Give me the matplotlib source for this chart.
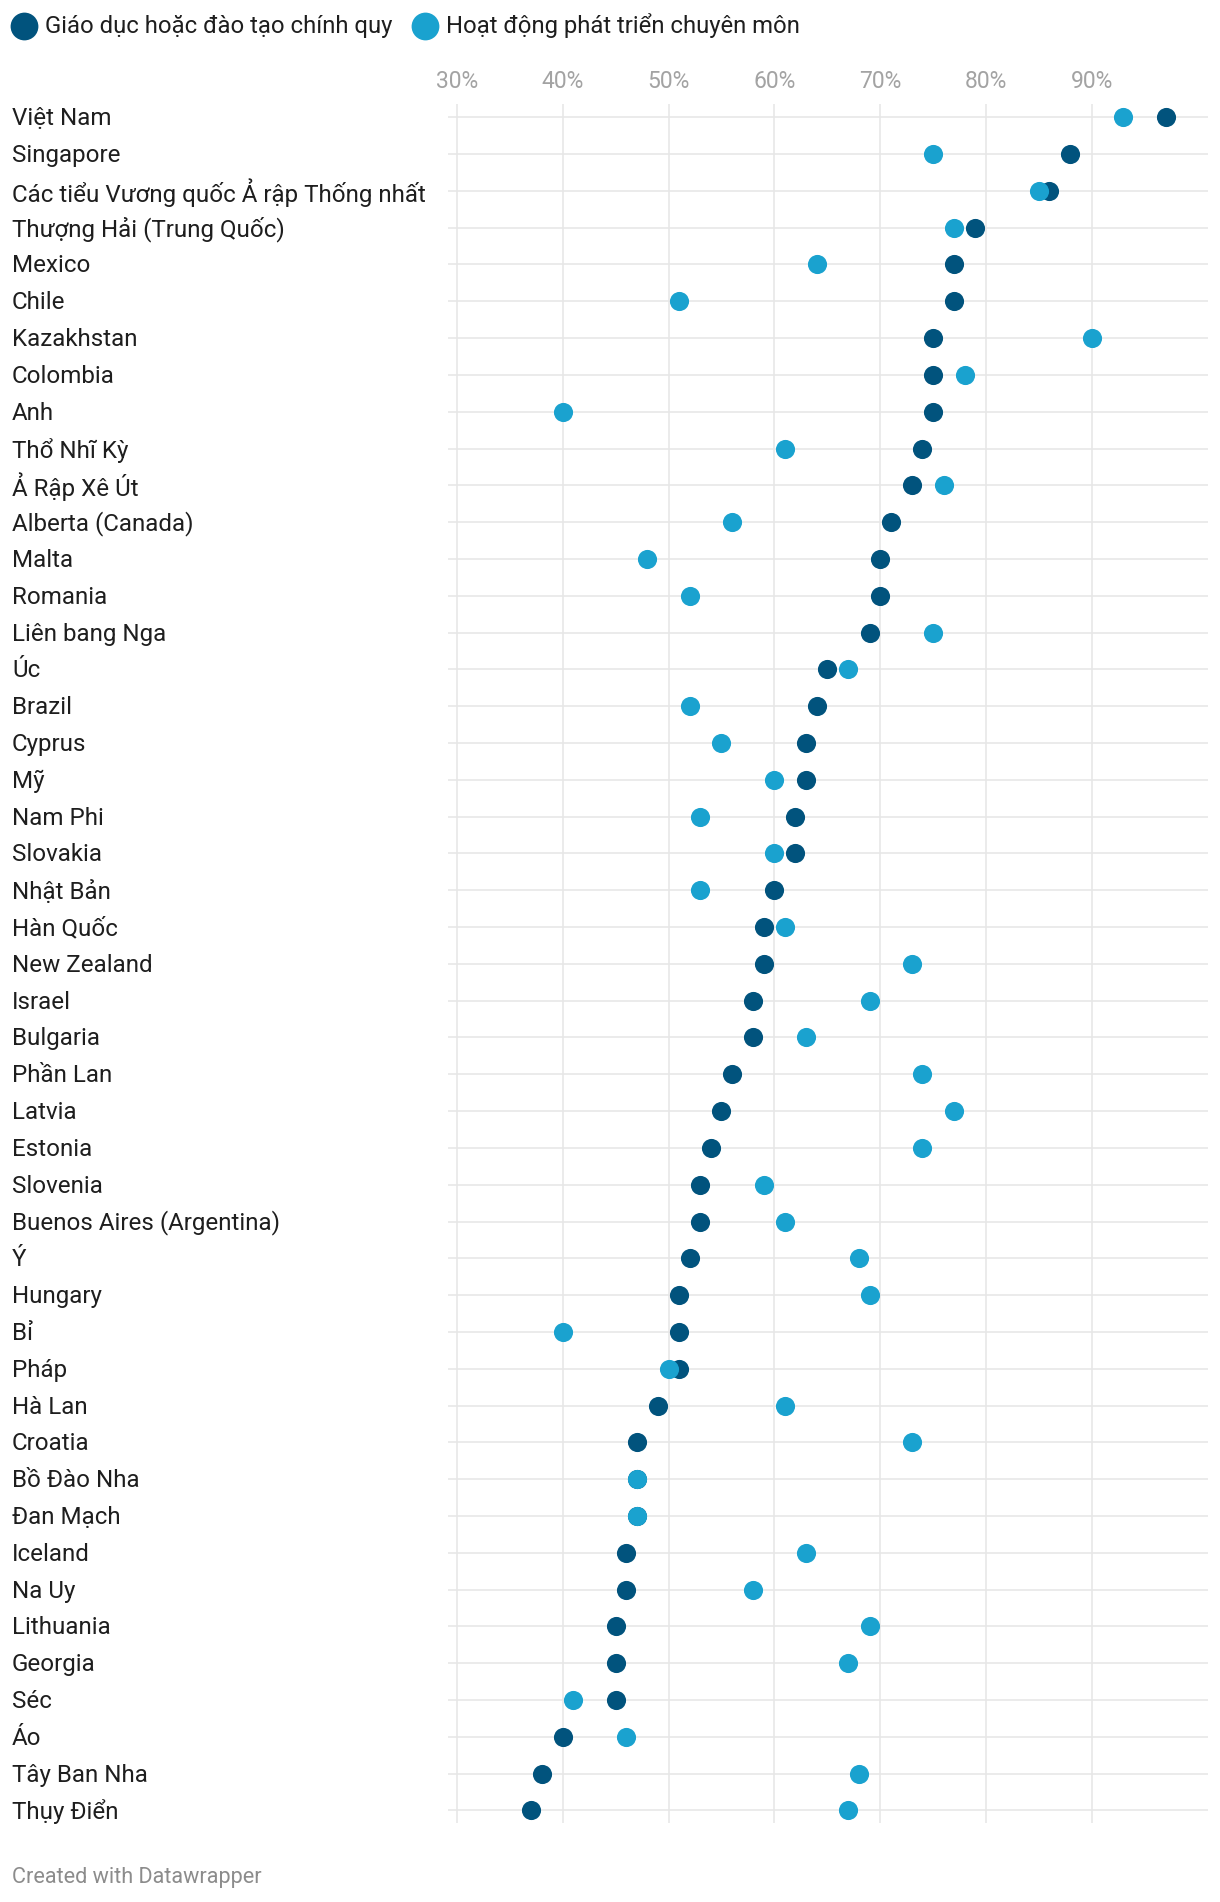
import matplotlib
matplotlib.use("Agg")
import matplotlib.pyplot as plt
from matplotlib.transforms import blended_transform_factory
from matplotlib.lines import Line2D

plt.rcParams['font.family'] = ['Roboto', 'DejaVu Sans']

countries = [
    "Việt Nam", "Singapore", "Các tiểu Vương quốc Ả rập Thống nhất", "Thượng Hải (Trung Quốc)",
    "Mexico", "Chile", "Kazakhstan", "Colombia", "Anh", "Thổ Nhĩ Kỳ", "Ả Rập Xê Út",
    "Alberta (Canada)", "Malta", "Romania", "Liên bang Nga", "Úc", "Brazil", "Cyprus", "Mỹ",
    "Nam Phi", "Slovakia", "Nhật Bản", "Hàn Quốc", "New Zealand", "Israel", "Bulgaria",
    "Phần Lan", "Latvia", "Estonia", "Slovenia", "Buenos Aires (Argentina)", "Ý", "Hungary",
    "Bỉ", "Pháp", "Hà Lan", "Croatia", "Bồ Đào Nha", "Đan Mạch", "Iceland", "Na Uy",
    "Lithuania", "Georgia", "Séc", "Áo", "Tây Ban Nha", "Thụy Điển",
]
formal = [97, 88, 86, 79, 77, 77, 75, 75, 75, 74, 73, 71, 70, 70, 69, 65, 64, 63, 63,
          62, 62, 60, 59, 59, 58, 58, 56, 55, 54, 53, 53, 52, 51, 51, 51, 49, 47, 47, 47,
          46, 46, 45, 45, 45, 40, 38, 37]
prof_dev = [93, 75, 85, 77, 64, 51, 90, 78, 40, 61, 76, 56, 48, 52, 75, 67, 52, 55, 60,
            53, 60, 53, 61, 73, 69, 63, 74, 77, 74, 59, 61, 68, 69, 40, 50, 61, 73, 47, 47,
            63, 58, 69, 67, 41, 46, 68, 67]
series_names = ["Giáo dục hoặc đào tạo chính quy", "Hoạt động phát triển chuyên môn"]
tick_values = [30, 40, 50, 60, 70, 80, 90]
tick_labels = ["30%", "40%", "50%", "60%", "70%", "80%", "90%"]

DARK = "#01537d"
LIGHT = "#1aa2cf"
GRID = "#e6e6e6"
TEXT = "#1e1e1e"

W, H = 1220, 1902
fig = plt.figure(figsize=(W / 100, H / 100), dpi=100)

def fx(px):
    return px / W

def fy(py):
    return 1 - py / H

ax_left, ax_right, ax_top, ax_bot = 448, 1208, 104, 1823
ax = fig.add_axes([fx(ax_left), fy(ax_bot), fx(ax_right) - fx(ax_left), fy(ax_top) - fy(ax_bot)])
n = len(countries)
ax.set_xlim(29.15, 101.0)
ax.set_ylim(n - 1 + 0.34, -0.36)
for s in ax.spines.values():
    s.set_visible(False)
ax.set_xticks([])
ax.set_yticks([])

for v in tick_values:
    ax.axvline(v, color=GRID, lw=1.1, zorder=1)
ys = list(range(n))
for y in ys:
    ax.axhline(y, color=GRID, lw=1.1, zorder=1)

msize = 190
ax.scatter(formal, ys, s=msize, color=DARK, zorder=3, linewidths=0, clip_on=False)
ax.scatter(prof_dev, ys, s=msize, color=LIGHT, zorder=4, linewidths=0, clip_on=False)

# row labels
tr = blended_transform_factory(fig.transFigure, ax.transData)
for y, c in zip(ys, countries):
    ax.text(fx(12), y + 0.04, c, transform=tr, ha='left', va='center', fontsize=17.4,
            color=TEXT, clip_on=False)

# tick labels at top
trx = blended_transform_factory(ax.transData, fig.transFigure)
for v, lab in zip(tick_values, tick_labels):
    ax.text(v, fy(81), lab, transform=trx, ha='center', va='center', fontsize=16.5,
            color="#a3a3a3", clip_on=False)

# legend
leg_y = 26
for cx, tx, col, name in [(23.5, 45, DARK, series_names[0]), (425, 446, LIGHT, series_names[1])]:
    fig.add_artist(Line2D([fx(cx)], [fy(leg_y)], marker='o', markersize=20, color=col,
                          markeredgewidth=0, transform=fig.transFigure))
    fig.text(fx(tx), fy(leg_y), name, ha='left', va='center', fontsize=17.2, color=TEXT)

fig.text(fx(12), fy(1877), "Created with Datawrapper", ha='left', va='center',
         fontsize=15.6, color="#8c8c8c")

fig.savefig("out.png", dpi=100, facecolor="white")
